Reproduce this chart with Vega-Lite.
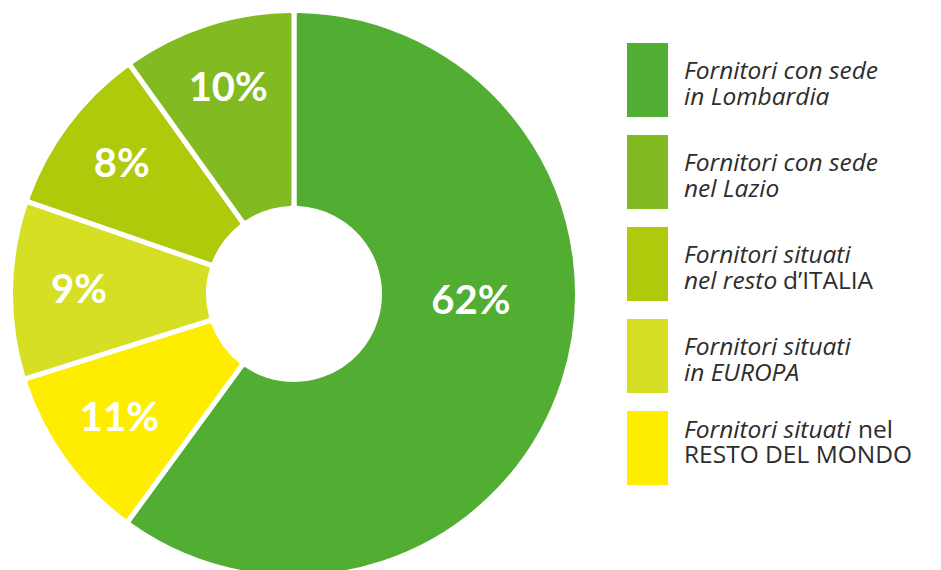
{
  "$schema": "https://vega.github.io/schema/vega-lite/v6.json",
  "padding": 0,
  "background": "white",
  "config": {"view": {"stroke": null}, "concat": {"spacing": 0}},
  "datasets": {
    "shares": [
      {"cat": "Lombardia", "ord": 1, "share": 60.1, "label": "62%", "l1i": "Fornitori con sede", "l1r": "", "l2i": "in Lombardia", "l2r": ""},
      {"cat": "Mondo", "ord": 2, "share": 10.1, "label": "11%", "l1i": "Fornitori situati", "l1r": "nel", "l2i": "", "l2r": "RESTO DEL MONDO"},
      {"cat": "Europa", "ord": 3, "share": 10.2, "label": "9%", "l1i": "Fornitori situati", "l1r": "", "l2i": "in EUROPA", "l2r": ""},
      {"cat": "Italia", "ord": 4, "share": 9.8, "label": "8%", "l1i": "Fornitori situati", "l1r": "", "l2i": "nel resto", "l2r": "d’ITALIA"},
      {"cat": "Lazio", "ord": 5, "share": 9.9, "label": "10%", "l1i": "Fornitori con sede", "l1r": "", "l2i": "nel Lazio", "l2r": ""}
    ]
  },
  "spacing": 39,
  "hconcat": [
    {
      "width": 588,
      "height": 588,
      "data": {"name": "shares"},
      "layer": [
        {
          "mark": {"type": "arc", "outerRadius": 283.5, "innerRadius": 85.5, "stroke": "white", "strokeWidth": 5, "cornerRadius": 4},
          "encoding": {
            "theta": {"field": "share", "type": "quantitative", "stack": true},
            "order": {"field": "ord", "type": "quantitative"},
            "color": {
              "field": "cat", "type": "nominal", "legend": null,
              "scale": {"domain": ["Lombardia", "Lazio", "Italia", "Europa", "Mondo"], "range": ["#52ae32", "#82bb21", "#afca0b", "#d6df23", "#ffed00"]}
            }
          }
        },
        {
          "mark": {"type": "text", "radius": 215, "font": "Lato", "fontWeight": "bold", "fontSize": 40, "fill": "white", "align": "center", "baseline": "middle"},
          "encoding": {
            "theta": {"field": "share", "type": "quantitative", "stack": true},
            "order": {"field": "ord", "type": "quantitative"},
            "text": {"condition": {"test": "datum.share < 50", "field": "label"}, "value": ""}
          }
        },
        {
          "transform": [{"filter": "datum.share > 50"}],
          "mark": {"type": "text", "theta": 1.616, "radius": 177, "font": "Lato", "fontWeight": "bold", "fontSize": 40, "fill": "white", "align": "center", "baseline": "middle"},
          "encoding": {"text": {"field": "label"}}
        }
      ]
    },
    {
      "spacing": 16,
      "hconcat": [
        {
          "width": 41,
          "height": 570,
          "data": {"name": "shares"},
          "mark": {"type": "rect"},
          "encoding": {
            "y": {
              "field": "cat", "type": "nominal", "axis": null,
              "scale": {"type": "band", "domain": ["Lombardia", "Lazio", "Italia", "Europa", "Mondo"], "paddingInner": 0.1957, "paddingOuter": 0.6957, "align": 0.336}
            },
            "color": {
              "field": "cat", "type": "nominal", "legend": null,
              "scale": {"domain": ["Lombardia", "Lazio", "Italia", "Europa", "Mondo"], "range": ["#52ae32", "#82bb21", "#afca0b", "#d6df23", "#ffed00"]}
            }
          }
        },
        {
          "width": 257,
          "height": 570,
          "data": {"name": "shares"},
          "encoding": {
            "y": {
              "field": "cat", "type": "nominal", "axis": null,
              "scale": {"type": "band", "domain": ["Lombardia", "Lazio", "Italia", "Europa", "Mondo"], "paddingInner": 0.1957, "paddingOuter": 0.6957, "align": 0.336}
            },
            "x": {"value": 0}
          },
          "layer": [
            {
              "transform": [{"filter": "datum.cat != 'Mondo'"}],
              "mark": {"type": "text", "align": "left", "baseline": "alphabetic", "dy": -1, "font": "Open Sans", "fontStyle": "italic", "fontSize": 24.5, "fill": "#2d2d2d"},
              "encoding": {"text": {"field": "l1i"}}
            },
            {
              "transform": [{"filter": "datum.cat != 'Mondo'"}],
              "mark": {"type": "text", "align": "left", "baseline": "alphabetic", "dy": 25, "font": "Open Sans", "fontStyle": "italic", "fontSize": 24.5, "fill": "#2d2d2d"},
              "encoding": {"text": {"field": "l2i"}}
            },
            {
              "transform": [{"filter": "datum.cat == 'Italia'"}],
              "mark": {"type": "text", "align": "left", "baseline": "alphabetic", "dy": 25, "dx": 99, "font": "Open Sans", "fontSize": 24.5, "fill": "#2d2d2d"},
              "encoding": {"text": {"field": "l2r"}}
            },
            {
              "transform": [{"filter": "datum.cat == 'Mondo'"}],
              "mark": {"type": "text", "align": "left", "baseline": "alphabetic", "dy": -10.5, "font": "Open Sans", "fontStyle": "italic", "fontSize": 24.5, "fill": "#2d2d2d"},
              "encoding": {"text": {"field": "l1i"}}
            },
            {
              "transform": [{"filter": "datum.cat == 'Mondo'"}],
              "mark": {"type": "text", "align": "left", "baseline": "alphabetic", "dy": -10.5, "dx": 174, "font": "Open Sans", "fontSize": 24.5, "fill": "#2d2d2d"},
              "encoding": {"text": {"field": "l1r"}}
            },
            {
              "transform": [{"filter": "datum.cat == 'Mondo'"}],
              "mark": {"type": "text", "align": "left", "baseline": "alphabetic", "dy": 14.5, "font": "Open Sans", "fontSize": 24.5, "fill": "#2d2d2d"},
              "encoding": {"text": {"field": "l2r"}}
            }
          ]
        }
      ]
    }
  ]
}
